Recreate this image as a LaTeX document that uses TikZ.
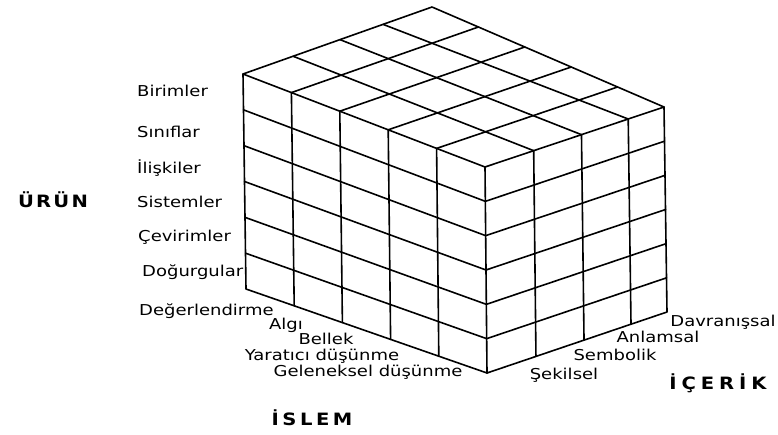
\documentclass[tikz,border=0pt]{standalone}
\usepackage{fontspec}
\setmainfont{DejaVu Sans}[FakeStretch=1.2]
\newfontfamily\titlefont{DejaVu Sans}[FakeStretch=1.15]
\usetikzlibrary{calc}
\begin{document}
\begin{tikzpicture}[x=1pt,y=-1pt,
  grid/.style={line width=1.6pt, line join=round, line cap=round},
  lab/.style={font=\fontsize{15}{15}\selectfont, inner sep=0pt},
  ttl/.style={font=\titlefont\bfseries\fontsize{17}{17}\selectfont, inner sep=0pt}]
\useasboundingbox (0,0) rectangle (778,434);
% cube corners
\coordinate (LT) at (243,74);
\coordinate (FT) at (485,167);
\coordinate (RT) at (664,107);
\coordinate (BK) at (432,7);
\coordinate (LB) at (246,289);
\coordinate (FB) at (487,373);
\coordinate (RB) at (667,312);
% outline
\draw[grid] (LT) -- (BK) -- (RT) -- (RB) -- (FB) -- (LB) -- cycle;
\draw[grid] (LT) -- (FT) -- (RT);
\draw[grid] (FT) -- (FB);
% left face
\foreach \t in {0.2,0.4,0.6,0.8}
  \draw[grid] ($(LT)!\t!(FT)$) -- ($(LB)!\t!(FB)$);
\foreach \s in {0.1667,0.3333,0.5,0.6667,0.8333}
  \draw[grid] ($(LT)!\s!(LB)$) -- ($(FT)!\s!(FB)$);
% right face
\foreach \t in {0.272,0.539,0.8}
  \draw[grid] ($(FT)!\t!(RT)$) -- ($(FB)!\t!(RB)$);
\foreach \s in {0.1667,0.3333,0.5,0.6667,0.8333}
  \draw[grid] ($(FT)!\s!(FB)$) -- ($(RT)!\s!(RB)$);
% top face
\foreach \t in {0.2,0.4,0.6,0.8}
  \draw[grid] ($(LT)!\t!(FT)$) -- ($(BK)!\t!(RT)$);
\foreach \a/\b in {0.272/0.265,0.539/0.513,0.8/0.741}
  \draw[grid] ($(FT)!\a!(RT)$) -- ($(LT)!\b!(BK)$);
% product labels
\node[lab,anchor=west] (p1) at (137,91) {Birimler};
\node[lab,anchor=west] (p2) at (137,132) {Sınıflar};
\node[lab,anchor=west] (p3) at (137,168) {İlişkiler};
\node[lab,anchor=west] (p4) at (137,202) {Sistemler};
\node[lab,anchor=west] (p5) at (138,237) {Çevirimler};
\node[lab,anchor=west] (p6) at (142,272) {Doğurgular};
% operation labels
\node[lab,anchor=west] (o1) at (139,311) {Değerlendirme};
\node[lab] (o2) at (286,325) {Algı};
\node[lab] (o3) at (326,339) {Bellek};
\node[lab] (o4) at (322,356) {Yaratıcı düşünme};
\node[lab] (o5) at (368,372) {Geleneksel düşünme};
% content labels
\node[lab] (c1) at (564,375) {Şekilsel};
\node[lab] (c2) at (615,355) {Sembolik};
\node[lab] (c3) at (658,337) {Anlamsal};
\node[lab] (c4) at (723,322) {Davranışsal};
% titles
\node[ttl] (urun) at (53,200) {\addfontfeature{LetterSpace=13}ÜRÜN};
\node[ttl] (icerik) at (718,383) {\addfontfeature{LetterSpace=29}İÇERİK};
\node[ttl] (islem) at (312,418) {\addfontfeature{LetterSpace=21}İSLEM};
\end{tikzpicture}
\end{document}
